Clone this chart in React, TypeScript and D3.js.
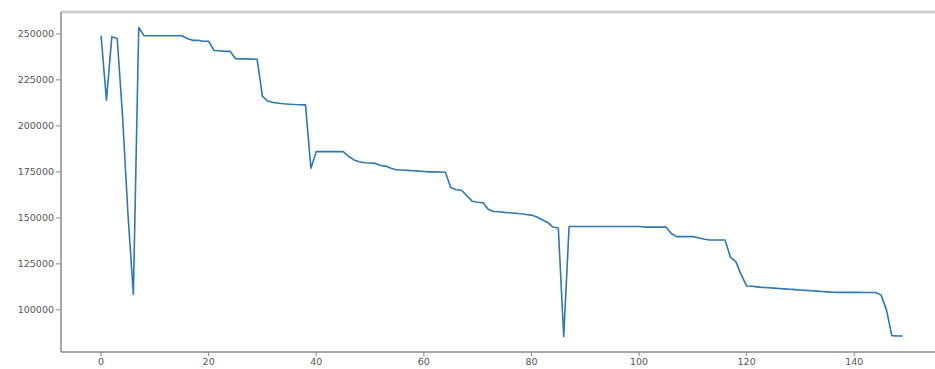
import React from "react";
import * as d3 from "d3";

const values: number[] = [
  249000, 214000, 248500, 247500, 205000, 152000, 108500, 253500, 249000, 249000,
  249000, 249000, 249000, 249000, 249000, 249000, 247500, 246500, 246500, 246000,
  246000, 241000, 240800, 240500, 240500, 236500, 236400, 236400, 236300, 236200,
  216000, 213500, 212700, 212300, 212000, 211800, 211600, 211500, 211400, 177000,
  186000, 186000, 186000, 186000, 186000, 186000, 183500, 181500, 180500, 180000,
  179800, 179600, 178500, 178000, 176800, 176000, 176000, 175800, 175600, 175400,
  175200, 175000, 175000, 174900, 174800, 166500, 165300, 165000, 162000, 159000,
  158500, 158200, 154500, 153500, 153300, 153000, 152800, 152500, 152200, 151800,
  151500, 150500, 149000, 147500, 145000, 144500, 85500, 145300, 145300, 145300,
  145300, 145300, 145300, 145300, 145300, 145300, 145300, 145300, 145300, 145300,
  145300, 145000, 145000, 145000, 145000, 145000, 141500, 139800, 139800, 139800,
  139800, 139200, 138500, 138000, 138000, 138000, 138000, 128500, 126200, 119000,
  113000, 112800, 112500, 112200, 112000, 111800, 111600, 111400, 111200, 111000,
  110800, 110600, 110400, 110200, 110000, 109800, 109600, 109500, 109500, 109500,
  109500, 109500, 109400, 109400, 109400, 108000, 100000, 86000, 85800, 85800,
];

const xTicks: number[] = [0, 20, 40, 60, 80, 100, 120, 140];
const yTicks: number[] = [100000, 125000, 150000, 175000, 200000, 225000, 250000];

export default function App() {
  const W = 935;
  const H = 369;
  const left = 61;
  const top = 12;
  const bottom = 352;
  const n = values.length - 1;
  const xPad = n * 0.05;
  const x = d3.scaleLinear().domain([-xPad, n + xPad]).range([left, 942.7]);
  const vmin = d3.min(values) as number;
  const vmax = d3.max(values) as number;
  const yPad = (vmax - vmin) * 0.05;
  const y = d3.scaleLinear().domain([vmin - yPad, vmax + yPad]).range([bottom, top]);
  const line = d3
    .line<number>()
    .x((_, i) => x(i))
    .y((d) => y(d));
  const tickFont = { fontFamily: "DejaVu Sans, sans-serif", fontSize: 9.5, fill: "#555" };
  return (
    <svg
      width={W}
      height={H}
      style={{ position: "absolute", left: 0, top: 0, background: "#fff" }}
    >
      <rect x={0} y={0} width={W} height={H} fill="#fff" />
      {/* spines */}
      <line x1={left} x2={W} y1={top} y2={top} stroke="#cfcfcf" strokeWidth={3} />
      <line x1={left} x2={left} y1={top} y2={bottom} stroke="#888" strokeWidth={1.5} />
      <line x1={left} x2={W} y1={bottom} y2={bottom} stroke="#888" strokeWidth={1.5} />
      {/* y ticks */}
      {yTicks.map((t) => (
        <g key={"y" + t}>
          <line x1={left - 5} x2={left} y1={y(t)} y2={y(t)} stroke="#888" strokeWidth={1} />
          <text x={left - 7} y={y(t)} dy="0.35em" textAnchor="end" {...tickFont}>
            {t}
          </text>
        </g>
      ))}
      {/* x ticks */}
      {xTicks.map((t) => (
        <g key={"x" + t}>
          <line x1={x(t)} x2={x(t)} y1={bottom} y2={bottom + 4} stroke="#888" strokeWidth={1} />
          <text x={x(t)} y={bottom + 10} dy="0.35em" textAnchor="middle" {...tickFont}>
            {t}
          </text>
        </g>
      ))}
      <path d={line(values) || ""} fill="none" stroke="#2f78b2" strokeWidth={1.6} strokeLinejoin="round" />
    </svg>
  );
}
